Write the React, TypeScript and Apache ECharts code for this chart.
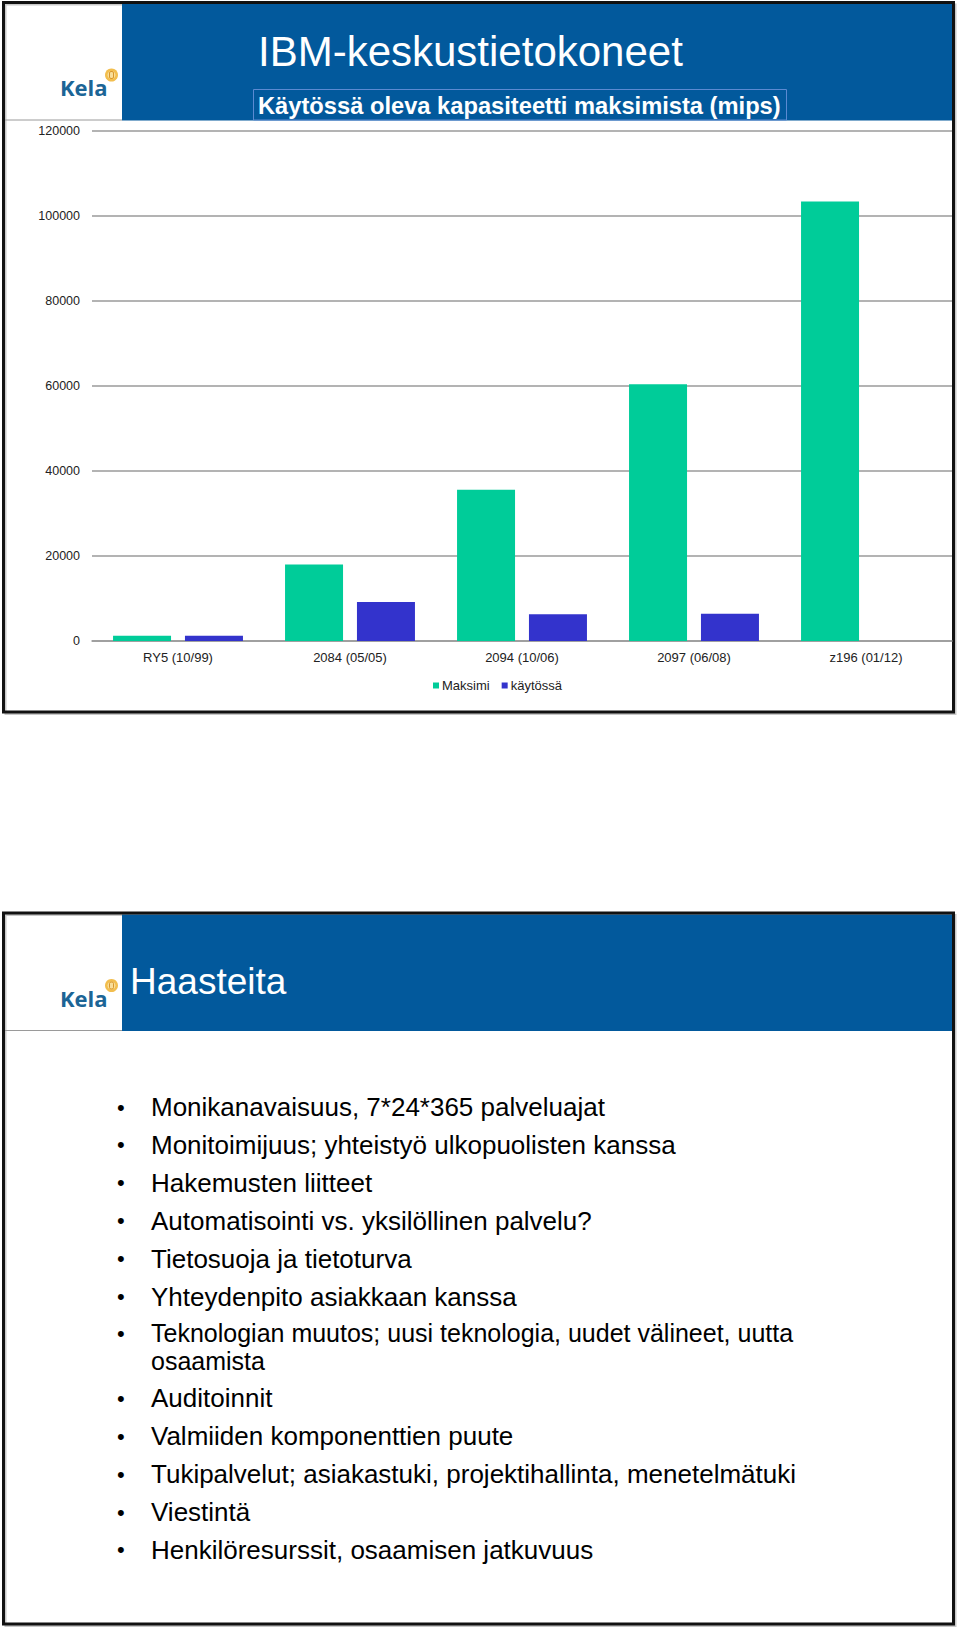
import React, { useEffect, useRef } from "react";
import * as echarts from "echarts";

const categories = ["RY5 (10/99)", "2084 (05/05)", "2094 (10/06)", "2097 (06/08)", "z196 (01/12)"];
const maksimi = [1250, 18000, 35600, 60400, 103400];
const kaytossa: (number | null)[] = [1250, 9200, 6300, 6400, null];
const seriesNames = ["Maksimi", "käytössä"];
const yMin = 0;
const yMax = 120000;
const yInterval = 20000;

const title1 = "IBM-keskustietokoneet";
const subtitle1 = "Käytössä oleva kapasiteetti maksimista (mips)";
const title2 = "Haasteita";
const bulletLines: string[][] = [
  ["Monikanavaisuus, 7*24*365 palveluajat"],
  ["Monitoimijuus; yhteistyö ulkopuolisten kanssa"],
  ["Hakemusten liitteet"],
  ["Automatisointi vs. yksilöllinen palvelu?"],
  ["Tietosuoja ja tietoturva"],
  ["Yhteydenpito asiakkaan kanssa"],
  ["Teknologian muutos; uusi teknologia, uudet välineet, uutta", "osaamista"],
  ["Auditoinnit"],
  ["Valmiiden komponenttien puute"],
  ["Tukipalvelut; asiakastuki, projektihallinta, menetelmätuki"],
  ["Viestintä"],
  ["Henkilöresurssit, osaamisen jatkuvuus"],
];

const FONT = "'Liberation Sans', Arial, Helvetica, sans-serif";
const GREEN = "#00CC99";
const BLUE = "#3333CC";
const HEADER = "#02599C";

function txt(text: string, x: number, y: number, size: number, fill: string, weight = "normal", family = FONT, align = "left") {
  return {
    type: "text",
    style: {
      text,
      x,
      y,
      fill,
      font: `${weight} ${size}px ${family}`,
      align,
      textAlign: align,
      verticalAlign: "middle",
      textVerticalAlign: "middle",
    },
  };
}

function kelaLogo(oy: number) {
  return [
    txt("Kela", 60, oy + 87, 22, "#1C6596", "bold", "'Open Sans', " + FONT),
    { type: "circle", shape: { cx: 111.5, cy: oy + 75, r: 6.5 }, style: { fill: "#F2BE4E" } },
    { type: "circle", shape: { cx: 111.5, cy: oy + 75, r: 4 }, style: { fill: "#F8DE9A" } },
    { type: "rect", shape: { x: 109.5, y: oy + 71.5, width: 4, height: 7, r: 1.5 }, style: { fill: "none", stroke: "#D9962A", lineWidth: 1 } },
  ];
}

function slideFrame(top: number, bottom: number) {
  return [
    { type: "rect", shape: { x: 5.5, y: top + 2, width: 950, height: bottom - top }, style: { fill: "none", stroke: "#c8c8c8", lineWidth: 2 } },
    { type: "rect", shape: { x: 122, y: top + 1.5, width: 830, height: 116.5 }, style: { fill: HEADER } },
    { type: "line", shape: { x1: 5, y1: top + 117.5, x2: 122, y2: top + 117.5 }, style: { stroke: "#9a9a9a", lineWidth: 1 } },
    ...kelaLogo(top - 2.5),
  ];
}

export default function App() {
  const ref = useRef<HTMLDivElement>(null);
  useEffect(() => {
    if (!ref.current) return;
    const chart = echarts.init(ref.current, null, { renderer: "svg" });

    const topS = 2.5;
    const topB = 712;
    const botS = 913;
    const botB = 1624;

    const bulletStart = 1107;
    const bulletStep = 37.9;
    const wrapStep = 28;
    const bulletEls: any[] = [];
    let y = bulletStart;
    bulletLines.forEach((lines) => {
      const wrapped = lines.length > 1;
      const fs = wrapped ? 25 : 26;
      bulletEls.push(txt("•", 117, wrapped ? y - 1 : y, 22, "#000"));
      lines.forEach((ln, i) => {
        bulletEls.push(txt(ln, 151, wrapped ? y - 1 + i * wrapStep : y, fs, "#000"));
      });
      y += (lines.length - 1) * 26 + bulletStep;
    });

    const graphic: any[] = [
      ...slideFrame(topS, topB),
      txt(title1, 258, 51, 42, "#ffffff"),
      { type: "rect", shape: { x: 253.5, y: 89.5, width: 533, height: 30.5 }, style: { fill: "none", stroke: "#5B8AD2", lineWidth: 1 } },
      txt(subtitle1, 258, 105.5, 23.7, "#ffffff", "bold"),
      { type: "rect", shape: { x: 3.5, y: topS, width: 950, height: topB - topS }, style: { fill: "none", stroke: "#111", lineWidth: 3 } },

      ...slideFrame(botS, botB),
      txt(title2, 130, 981, 37, "#ffffff"),
      ...bulletEls,
      { type: "rect", shape: { x: 3.5, y: botS, width: 950, height: botB - botS }, style: { fill: "none", stroke: "#111", lineWidth: 3 } },
    ];

    chart.setOption({
      animation: false,
      backgroundColor: "#ffffff",
      textStyle: { fontFamily: FONT },
      graphic,
      legend: {
        data: seriesNames,
        left: 433,
        top: 679,
        padding: 0,
        icon: "rect",
        itemWidth: 6,
        itemHeight: 6,
        itemGap: 12,
        textStyle: { fontSize: 13, color: "#222", fontFamily: FONT, padding: [0, 0, 0, -2] },
      },
      grid: { left: 92, right: 8, top: 131, bottom: 989, containLabel: false },
      xAxis: {
        type: "category",
        data: categories,
        axisLine: { show: true, lineStyle: { color: "#9a9a9a", width: 1.5 } },
        axisTick: { show: false },
        axisLabel: { fontSize: 13, color: "#222", margin: 10, fontFamily: FONT },
      },
      yAxis: {
        type: "value",
        min: yMin,
        max: yMax,
        interval: yInterval,
        axisLine: { show: false },
        axisTick: { show: false },
        axisLabel: { fontSize: 12.5, color: "#222", margin: 12, fontFamily: FONT, formatter: (v: number) => String(v) },
        splitLine: { show: true, lineStyle: { color: "#9a9a9a", width: 1.5 } },
      },
      series: [
        { name: seriesNames[0], type: "bar", data: maksimi, barWidth: 58, barGap: "24%", itemStyle: { color: GREEN } },
        { name: seriesNames[1], type: "bar", data: kaytossa, barWidth: 58, barGap: "24%", itemStyle: { color: BLUE } },
      ],
    });
    return () => chart.dispose();
  }, []);
  return <div ref={ref} style={{ position: "absolute", left: 0, top: 0, width: 960, height: 1630 }} />;
}
